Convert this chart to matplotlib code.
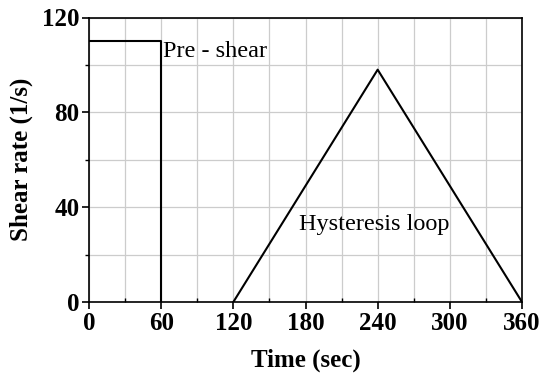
import numpy as np
import matplotlib.pyplot as plt
from matplotlib.ticker import MultipleLocator

# dados
pre_t = [0, 60, 60]
pre_rate = [110, 110, 0]
loop_t = [120, 240, 360]
loop_rate = [0, 98, 0]

plt.rcParams['font.family'] = ['Liberation Serif', 'DejaVu Serif']

fig = plt.figure(figsize=(5.41, 3.78), dpi=100)
ax = fig.add_axes([89/541, 1 - 302/378, 433/541, 284.5/378])

ax.plot(pre_t, pre_rate, color='black', lw=1.5)
ax.plot(loop_t, loop_rate, color='black', lw=1.5)

ax.set_xlim(0, 360)
ax.set_ylim(0, 120)
ax.xaxis.set_major_locator(MultipleLocator(60))
ax.xaxis.set_minor_locator(MultipleLocator(30))
ax.yaxis.set_major_locator(MultipleLocator(40))
ax.yaxis.set_minor_locator(MultipleLocator(20))
ax.grid(True, which='both', color='#cccccc', lw=0.9)
ax.set_axisbelow(True)

ax.tick_params(which='major', direction='out', length=5, width=1.2,
               labelsize=18, top=False, right=False, pad=2)
ax.tick_params(which='minor', direction='out', length=3, width=1)
ax.tick_params(axis='x', which='minor', direction='in')
for lab in ax.get_xticklabels() + ax.get_yticklabels():
    lab.set_fontweight('bold')
for s in ax.spines.values():
    s.set_linewidth(1.2)

ax.set_xlabel('Time (sec)', fontsize=18, fontweight='bold', labelpad=10)
ax.set_ylabel('Shear rate (1/s)', fontsize=18, fontweight='bold', labelpad=6)

ax.text(61.5, 105.5, 'Pre - shear', fontsize=17.5, va='center', ha='left')
ax.text(237, 32.5, 'Hysteresis loop', fontsize=17.5, va='center', ha='center')

fig.savefig('out.png', dpi=100)
